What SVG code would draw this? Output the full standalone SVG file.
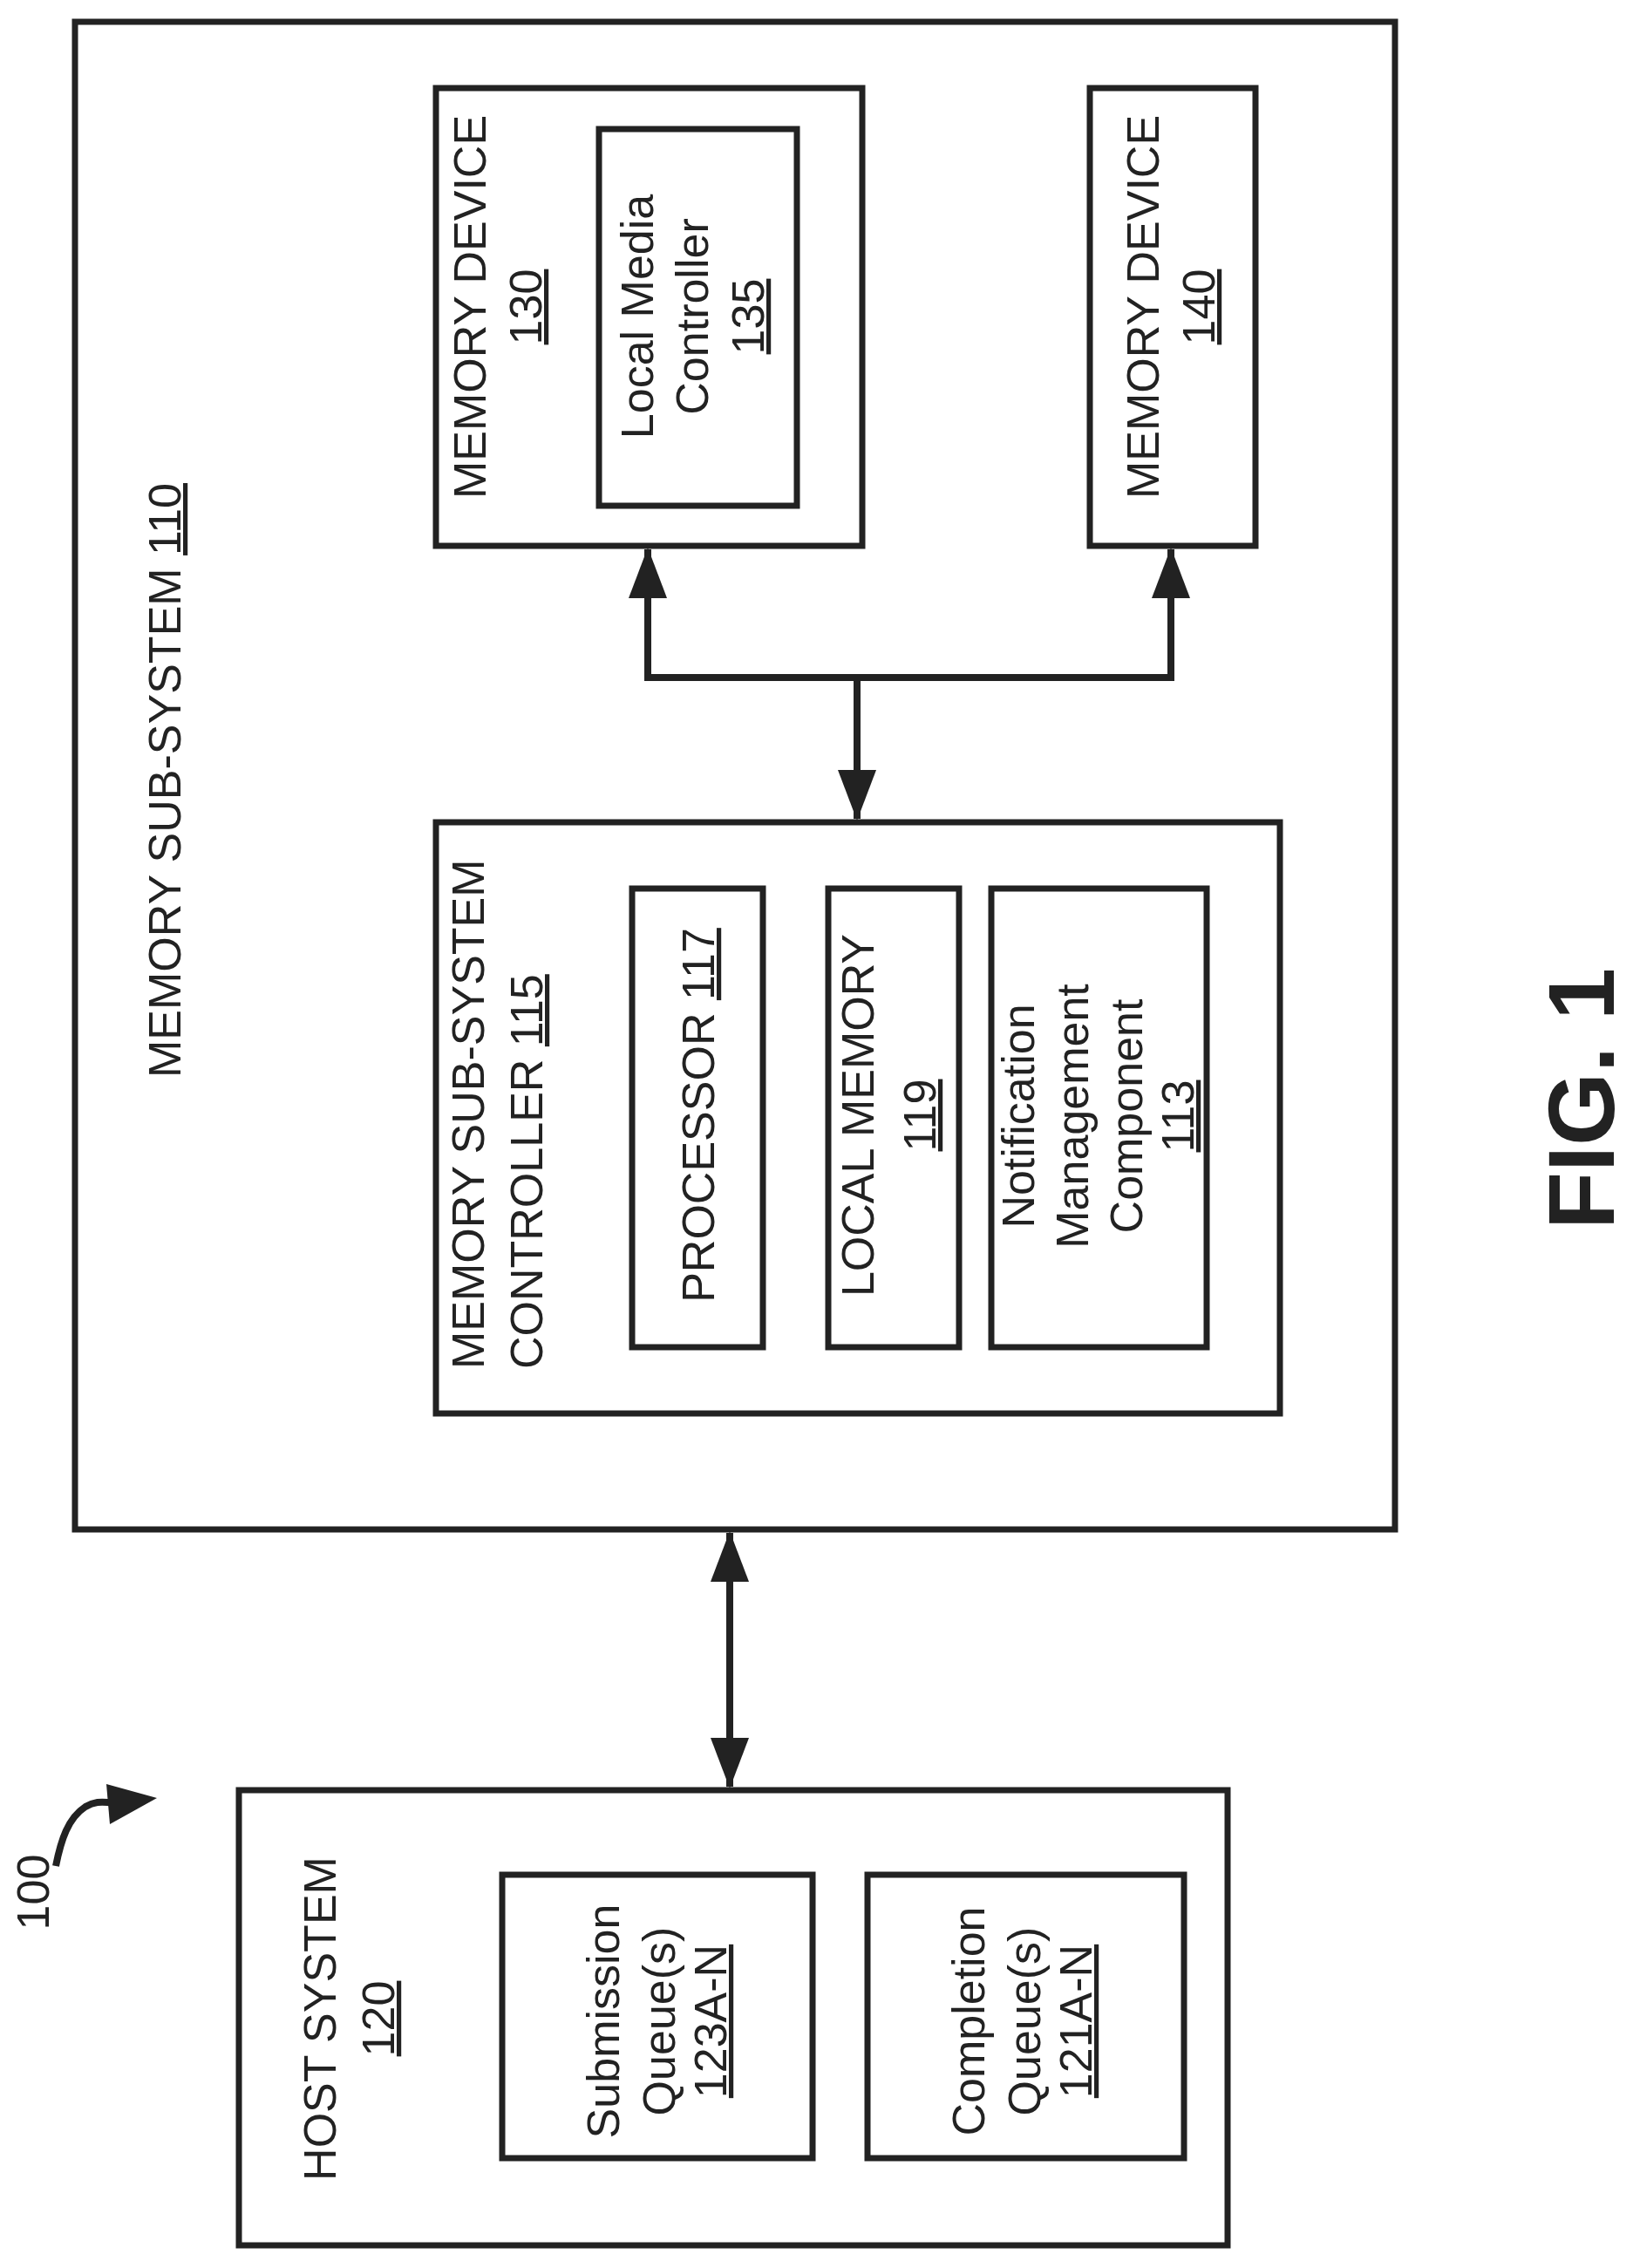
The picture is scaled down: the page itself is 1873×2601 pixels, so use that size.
<svg xmlns="http://www.w3.org/2000/svg" width="1873" height="2601" viewBox="0 0 1873 2601">
<style>
.b{fill:none;stroke:#222;stroke-width:7}
.t{font-family:"Liberation Sans",Arial,sans-serif;font-size:52px;fill:#222;text-anchor:middle}
.s{text-anchor:start}
.c{fill:none;stroke:#222;stroke-width:8}
</style>
<defs>
<marker id="ah" markerUnits="userSpaceOnUse" markerWidth="60" markerHeight="44" refX="56" refY="22" orient="auto-start-reverse">
<path d="M0,0 L58,22 L0,44 Z" fill="#222"/>
</marker>
</defs>
<rect width="1873" height="2601" fill="#fff"/>
<g id="memory-sub-system">
<rect class="b" x="86" y="25" width="1514" height="1729"/>
<text class="t" transform="translate(207,895) rotate(-90)">MEMORY SUB-SYSTEM <tspan text-decoration="underline">110</tspan></text>
</g>
<g id="memory-device-130">
<rect class="b" x="500" y="101" width="489" height="525"/>
<text class="t" transform="translate(557,352) rotate(-90)">MEMORY DEVICE</text>
<text class="t" transform="translate(621,352) rotate(-90)"><tspan text-decoration="underline">130</tspan></text>
</g>
<g id="local-media-controller">
<rect class="b" x="687" y="148" width="227" height="432"/>
<text class="t" transform="translate(749,363) rotate(-90)">Local Media</text>
<text class="t" transform="translate(812,363) rotate(-90)">Controller</text>
<text class="t" transform="translate(876,363) rotate(-90)"><tspan text-decoration="underline">135</tspan></text>
</g>
<g id="memory-device-140">
<rect class="b" x="1250" y="101" width="190" height="525"/>
<text class="t" transform="translate(1329,352) rotate(-90)">MEMORY DEVICE</text>
<text class="t" transform="translate(1393,352) rotate(-90)"><tspan text-decoration="underline">140</tspan></text>
</g>
<g id="controller-115">
<rect class="b" x="500" y="943" width="968" height="678"/>
<text class="t s" transform="translate(555,1570) rotate(-90)">MEMORY SUB-SYSTEM</text>
<text class="t s" transform="translate(622,1570) rotate(-90)">CONTROLLER <tspan text-decoration="underline">115</tspan></text>
</g>
<g id="processor-117">
<rect class="b" x="725" y="1019" width="150" height="526"/>
<text class="t" transform="translate(819,1279) rotate(-90)">PROCESSOR <tspan text-decoration="underline">117</tspan></text>
</g>
<g id="local-memory-119">
<rect class="b" x="950" y="1019" width="150" height="526"/>
<text class="t" transform="translate(1002,1279) rotate(-90)">LOCAL MEMORY</text>
<text class="t" transform="translate(1073,1279) rotate(-90)"><tspan text-decoration="underline">119</tspan></text>
</g>
<g id="notification-113">
<rect class="b" x="1137" y="1019" width="247" height="526"/>
<text class="t" transform="translate(1186,1280) rotate(-90)">Notification</text>
<text class="t" transform="translate(1248,1280) rotate(-90)">Management</text>
<text class="t" transform="translate(1310,1280) rotate(-90)">Component</text>
<text class="t" transform="translate(1369,1280) rotate(-90)"><tspan text-decoration="underline">113</tspan></text>
</g>
<g id="host-system-120">
<rect class="b" x="274" y="2053" width="1134" height="522"/>
<text class="t" transform="translate(385,2315) rotate(-90)">HOST SYSTEM</text>
<text class="t" transform="translate(452,2315) rotate(-90)"><tspan text-decoration="underline">120</tspan></text>
</g>
<g id="submission-queues">
<rect class="b" x="576" y="2150" width="356" height="325"/>
<text class="t" transform="translate(710,2318) rotate(-90)">Submission</text>
<text class="t" transform="translate(774,2318) rotate(-90)">Queue(s)</text>
<text class="t" transform="translate(833,2318) rotate(-90)"><tspan text-decoration="underline">123A-N</tspan></text>
</g>
<g id="completion-queues">
<rect class="b" x="995" y="2150" width="363" height="325"/>
<text class="t" transform="translate(1129,2318) rotate(-90)">Completion</text>
<text class="t" transform="translate(1193,2318) rotate(-90)">Queue(s)</text>
<text class="t" transform="translate(1252,2318) rotate(-90)"><tspan text-decoration="underline">121A-N</tspan></text>
</g>
<g id="label-100">
<text class="t" transform="translate(56,2170) rotate(-90)">100</text>
<path d="M64,2140 C70,2110 78,2085 98,2072 C115,2062 125,2070 140,2066" fill="none" stroke="#222" stroke-width="8"/>
<path d="M122,2046 L180,2062 L126,2092 Z" fill="#222"/>
</g>
<g id="fig-label">
<text transform="translate(1851,1260) rotate(-90)" font-family="Liberation Sans,Arial,sans-serif" font-size="108" font-weight="bold" fill="#222" text-anchor="middle">FIG. 1</text>
</g>
<g id="connectors">
<path class="c" d="M743,777 L743,630" marker-end="url(#ah)"/>
<path class="c" d="M1343,777 L1343,630" marker-end="url(#ah)"/>
<path class="c" d="M739,777 L1347,777"/>
<path class="c" d="M983,777 L983,939" marker-end="url(#ah)"/>
<path class="c" d="M837,1758 L837,2049" marker-start="url(#ah)" marker-end="url(#ah)"/>
</g>
</svg>
